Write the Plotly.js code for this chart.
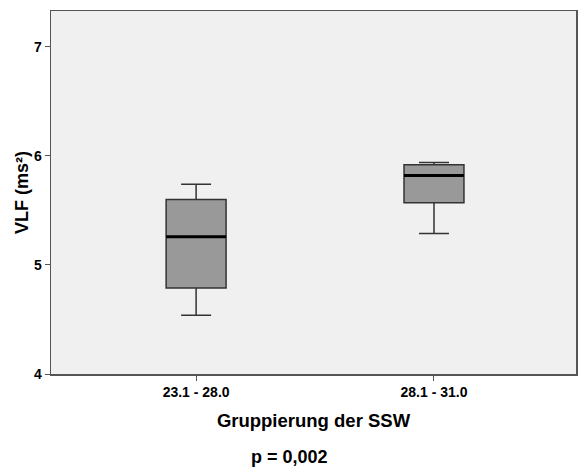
<!DOCTYPE html>
<html>
<head>
<meta charset="utf-8">
<script src="https://cdn.plot.ly/plotly-3.0.1.min.js"></script>
<style>html,body{margin:0;padding:0;background:#fff;}#chart{width:580px;height:473px;}</style>
</head>
<body>
<div id="chart"></div>
<script>
const categories = ["23.1 - 28.0", "28.1 - 31.0"];
const lowerWhisker = [4.54, 5.29];
const q1 = [4.79, 5.57];
const median = [5.26, 5.82];
const q3 = [5.60, 5.92];
const upperWhisker = [5.74, 5.94];
const pText = "p = 0,002";

const xs = categories.map((c, i) => i);
const halfBox = 0.126;

const boxTrace = {
  type: 'box',
  x: xs,
  q1: q1,
  median: median,
  q3: q3,
  lowerfence: lowerWhisker,
  upperfence: upperWhisker,
  fillcolor: '#999999',
  line: {color: '#333333', width: 1.5},
  whiskerwidth: 0.5,
  width: 2 * halfBox,
  hoverinfo: 'skip',
  showlegend: false
};

const medX = [], medY = [];
xs.forEach((x, i) => {
  medX.push(x - halfBox, x + halfBox, null);
  medY.push(median[i], median[i], null);
});
const medianTrace = {
  type: 'scatter', mode: 'lines', x: medX, y: medY,
  line: {color: '#000000', width: 3},
  hoverinfo: 'skip', showlegend: false
};

const font = {family: 'Liberation Sans, Arial, sans-serif', color: '#000'};

const layout = {
  width: 580, height: 473,
  margin: {l: 51, r: 4, t: 11, b: 99},
  paper_bgcolor: '#ffffff',
  plot_bgcolor: '#f0f0f0',
  showlegend: false,
  xaxis: {
    range: [-0.61, 1.597],
    tickvals: xs, ticktext: categories,
    showgrid: false, zeroline: false,
    showline: true, linecolor: '#555555', linewidth: 1.5, mirror: true,
    ticks: 'outside', ticklen: 5, tickcolor: '#555555',
    tickfont: Object.assign({}, font, {size: 14, weight: 'bold'}),
    title: {text: 'Gruppierung der SSW', font: Object.assign({}, font, {size: 18.5, weight: 'bold'}), standoff: 15}
  },
  yaxis: {
    range: [4, 7.33],
    tickvals: [4, 5, 6, 7],
    showgrid: false, zeroline: false,
    showline: true, linecolor: '#555555', linewidth: 1.5, mirror: true,
    ticks: 'outside', ticklen: 5, tickcolor: '#555555',
    tickfont: Object.assign({}, font, {size: 14, weight: 'bold'}),
    title: {text: 'VLF (ms²)', font: Object.assign({}, font, {size: 18, weight: 'bold'}), standoff: 0}
  },
  annotations: [{
    text: pText, xref: 'paper', yref: 'paper', x: 0.455, y: -0.228,
    xanchor: 'center', yanchor: 'middle', showarrow: false,
    font: Object.assign({}, font, {size: 18, weight: 'bold'})
  }]
};

Plotly.newPlot('chart', [boxTrace, medianTrace], layout, {displayModeBar: false, staticPlot: true});
</script>
</body>
</html>
